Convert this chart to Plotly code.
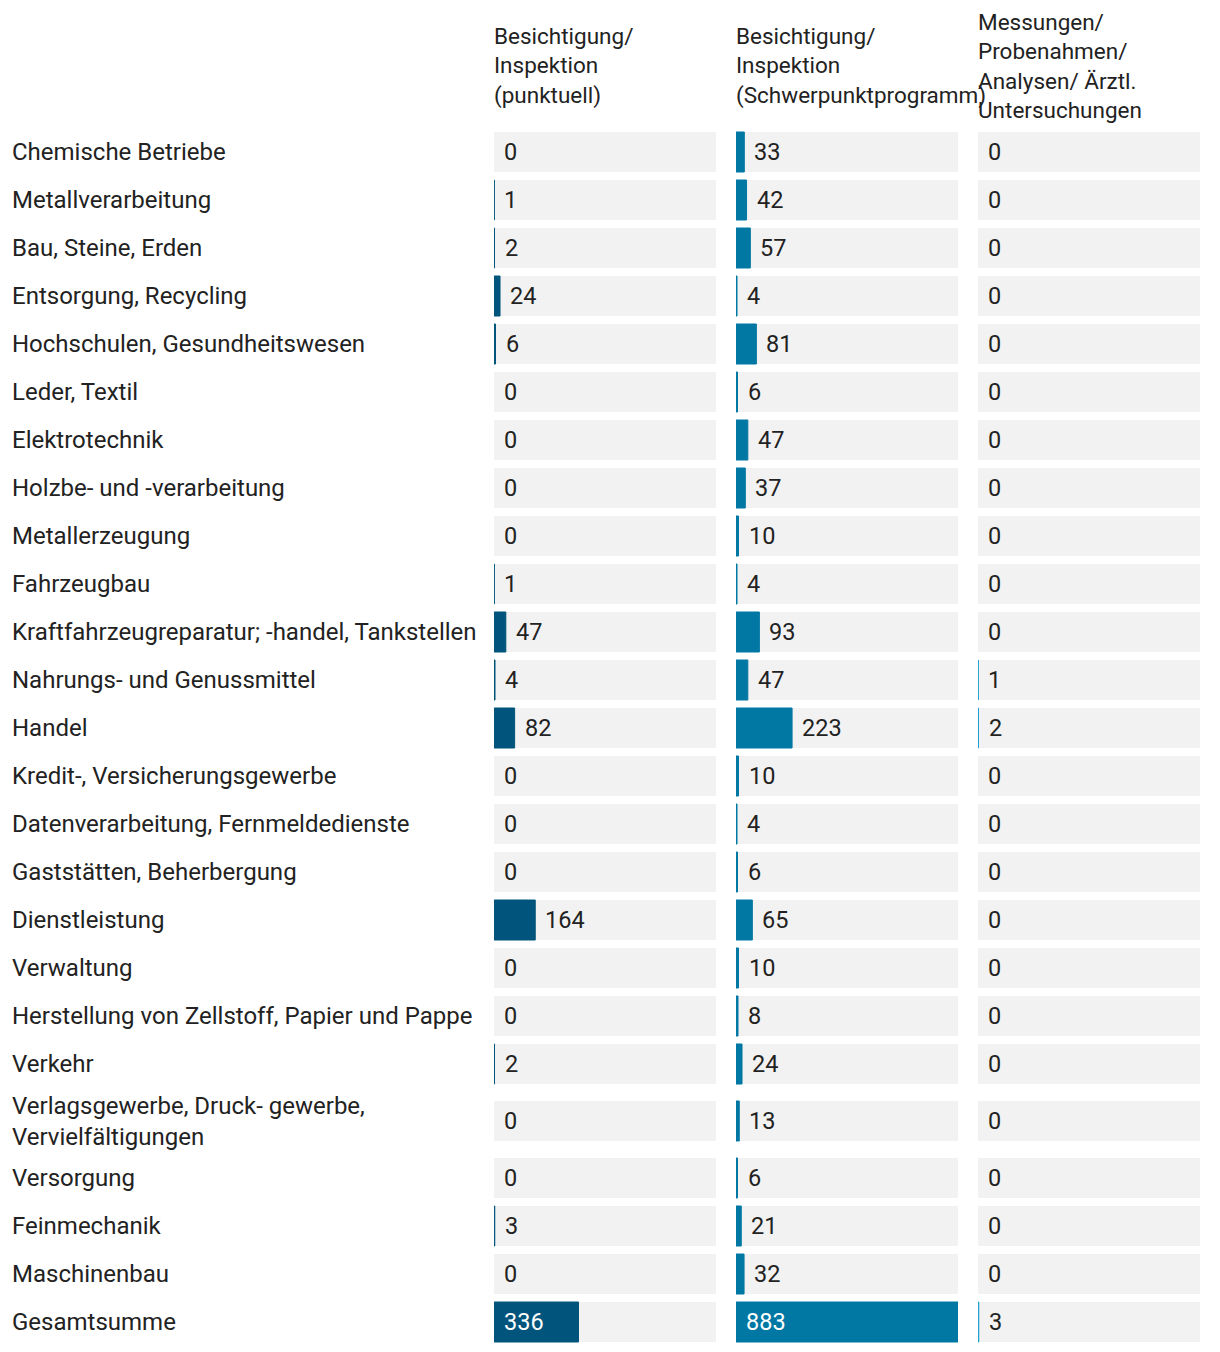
import plotly.graph_objects as go

categories = [
    "Chemische Betriebe", "Metallverarbeitung", "Bau, Steine, Erden", "Entsorgung, Recycling",
    "Hochschulen, Gesundheitswesen", "Leder, Textil", "Elektrotechnik", "Holzbe- und -verarbeitung",
    "Metallerzeugung", "Fahrzeugbau", "Kraftfahrzeugreparatur; -handel, Tankstellen",
    "Nahrungs- und Genussmittel", "Handel", "Kredit-, Versicherungsgewerbe",
    "Datenverarbeitung, Fernmeldedienste", "Gaststätten, Beherbergung", "Dienstleistung",
    "Verwaltung", "Herstellung von Zellstoff, Papier und Pappe", "Verkehr",
    "Verlagsgewerbe, Druck- gewerbe,<br>Vervielfältigungen", "Versorgung", "Feinmechanik",
    "Maschinenbau", "Gesamtsumme",
]
series_names = [
    "Besichtigung/<br>Inspektion<br>(punktuell)",
    "Besichtigung/<br>Inspektion<br>(Schwerpunktprogramm)",
    "Messungen/<br>Probenahmen/<br>Analysen/ Ärztl.<br>Untersuchungen",
]
punktuell = [0, 1, 2, 24, 6, 0, 0, 0, 0, 1, 47, 4, 82, 0, 0, 0, 164, 0, 0, 2, 0, 0, 3, 0, 336]
schwerpunkt = [33, 42, 57, 4, 81, 6, 47, 37, 10, 4, 93, 47, 223, 10, 4, 6, 65, 10, 8, 24, 13, 6, 21, 32, 883]
messungen = [0, 0, 0, 0, 0, 0, 0, 0, 0, 0, 0, 1, 2, 0, 0, 0, 0, 0, 0, 0, 0, 0, 0, 0, 3]

series = [punktuell, schwerpunkt, messungen]
colors = ["#01547b", "#0078a3", "#1a9fd0"]
track_color = "#f2f2f2"
text_color = "#222222"
FONT = "Roboto"
FS_LABEL = 24
FS_VALUE = 23.5
FS_HEAD = 22.5

OFF = 8  # page body margin
W, H = 1220 - 2 * OFF, 1352 - 2 * OFF
ROW_PX = 48
heights = [1 + 0.375 * (lab.count("<br>")) for lab in categories]
centers = []
acc = 0.0
for h in heights:
    centers.append(acc + h / 2)
    acc += h
total = acc

plot_top_px = 128 - OFF
ydom = [0, 1 - plot_top_px / H]
y_bottom = (H - plot_top_px) / ROW_PX

col_px = [(494 - OFF, 716 - OFF), (736 - OFF, 958 - OFF), (978 - OFF, 1200 - OFF)]
vmax = max(max(s) for s in series)
bar_w = 40 / ROW_PX

fig = go.Figure()
annotations = []
for i, (vals, col) in enumerate(zip(series, colors)):
    xa = "x" if i == 0 else f"x{i+1}"
    fig.add_trace(go.Bar(
        x=[vmax] * len(categories), y=centers, orientation="h", width=bar_w,
        marker=dict(color=track_color, line=dict(width=0)), hoverinfo="skip",
        xaxis=xa, yaxis="y", showlegend=False,
    ))
    fig.add_trace(go.Bar(
        x=vals, y=centers, orientation="h", width=bar_w,
        marker=dict(color=col, line=dict(color=col, width=[1 if v > 0 else 0 for v in vals])),
        xaxis=xa, yaxis="y", showlegend=False,
        hovertemplate="%{x}<extra></extra>",
    ))
    for v, c in zip(vals, centers):
        inside = v / vmax > 0.3
        annotations.append(dict(
            x=0 if inside else v, y=c, xref=xa, yref="y", text=str(v),
            showarrow=False, xanchor="left", yanchor="middle", xshift=8,
            font=dict(family=FONT, size=FS_VALUE, color="white" if inside else text_color),
        ))
    annotations.append(dict(
        x=(col_px[i][0] - 2) / W, y=1 - (66 - OFF) / H, xref="paper", yref="paper",
        text=series_names[i], showarrow=False, xanchor="left", yanchor="middle", align="left",
        font=dict(family=FONT, size=FS_HEAD, color=text_color),
    ))

for lab, c in zip(categories, centers):
    annotations.append(dict(
        x=(12 - OFF - 2) / W, y=c, xref="paper", yref="y", text=lab, showarrow=False,
        xanchor="left", yanchor="middle", align="left",
        font=dict(family=FONT, size=FS_LABEL, color=text_color),
    ))

axis_common = dict(range=[0, vmax], visible=False, showgrid=False, zeroline=False, fixedrange=True)
fig.update_layout(
    width=W, height=H, margin=dict(l=0, r=0, t=0, b=0),
    paper_bgcolor="white", plot_bgcolor="white", barmode="overlay",
    font=dict(family=FONT, size=FS_LABEL, color=text_color),
    xaxis=dict(domain=[col_px[0][0] / W, col_px[0][1] / W], anchor="y", **axis_common),
    xaxis2=dict(domain=[col_px[1][0] / W, col_px[1][1] / W], anchor="y", **axis_common),
    xaxis3=dict(domain=[col_px[2][0] / W, col_px[2][1] / W], anchor="y", **axis_common),
    yaxis=dict(domain=ydom, range=[y_bottom, 0], visible=False, showgrid=False, zeroline=False, fixedrange=True),
    annotations=annotations,
)
fig.write_html("out.html")
